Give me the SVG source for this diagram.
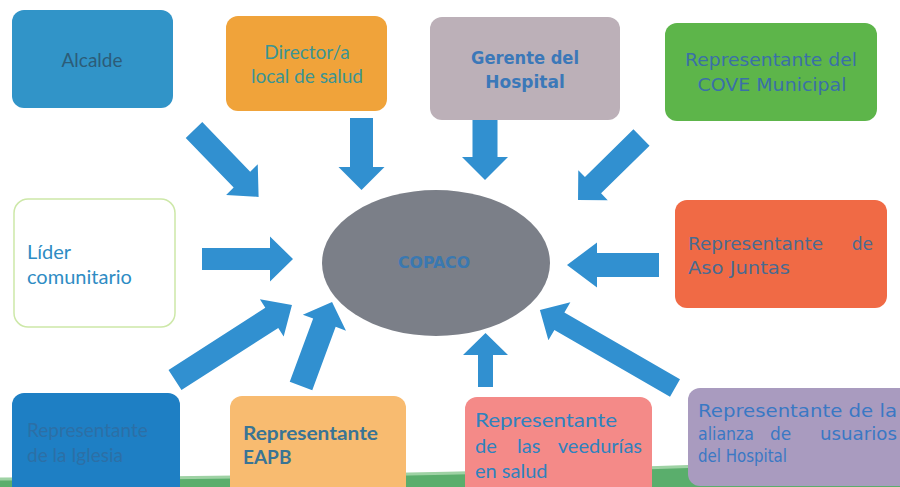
<svg xmlns="http://www.w3.org/2000/svg" width="900" height="487" viewBox="0 0 900 487">
<style>
.arrow{fill:#3190d0}
.box{stroke:none}
.lato{font-family:Lato,"Open Sans","Liberation Sans",sans-serif}
.dv{font-family:"DejaVu Sans","Liberation Sans",sans-serif}
</style>
<rect width="900" height="487" fill="#ffffff"/>
<path d="M0,487 L0,479 C250,478 550,474 900,458 L900,487 Z" fill="#5aae6c"/>
<path d="M0,479 C250,478 550,474 900,458" fill="none" stroke="#9ed2a4" stroke-width="3"/>
<g id="connectors">
<polygon class="arrow" transform="translate(194,130) rotate(46)" points="0,-11.5 69,-11.5 69,-22 93,0 69,22 69,11.5 0,11.5"/>
<polygon class="arrow" transform="translate(361.5,118) rotate(90)" points="0,-11.5 49,-11.5 49,-23 72,0 49,23 49,11.5 0,11.5"/>
<polygon class="arrow" transform="translate(485,120) rotate(90)" points="0,-12.5 37,-12.5 37,-23 60,0 37,23 37,12.5 0,12.5"/>
<polygon class="arrow" transform="translate(641.5,137.5) rotate(135.5)" points="0,-11.5 68,-11.5 68,-21 89,0 68,21 68,11.5 0,11.5"/>
<polygon class="arrow" transform="translate(202,259)" points="0,-11 68,-11 68,-22.5 91,0 68,22.5 68,11 0,11"/>
<polygon class="arrow" transform="translate(659,265) rotate(180)" points="0,-12 62,-12 62,-22.5 92,0 62,22.5 62,12 0,12"/>
<polygon class="arrow" transform="translate(175,380) rotate(-32.7)" points="0,-12 115,-12 115,-22 139,0 115,22 115,12 0,12"/>
<polygon class="arrow" transform="translate(301,386) rotate(-69.7)" points="0,-12 67.5,-12 67.5,-23 89.5,0 67.5,23 67.5,12 0,12"/>
<polygon class="arrow" transform="translate(485.5,387) rotate(-90)" points="0,-7.5 32,-7.5 32,-22.5 54,0 32,22.5 32,7.5 0,7.5"/>
<polygon class="arrow" transform="translate(675,388) rotate(-150)" points="0,-10 133.5,-10 133.5,-22 156,0 133.5,22 133.5,10 0,10"/>
</g>
<g id="copaco">
<ellipse cx="436" cy="263" rx="114" ry="73" fill="#7b7f88"/>
<text x="434" y="268" text-anchor="middle" class="dv" font-size="15" font-weight="bold" fill="#3a78b0" textLength="72" lengthAdjust="spacingAndGlyphs">COPACO</text>
</g>
<g id="alcalde">
<rect class="box" x="12" y="10" width="161" height="98" rx="12" fill="#3194c8"/>
<text x="92" y="67" text-anchor="middle" class="lato" font-size="19" fill="#2c5c78">Alcalde</text>
</g>
<g id="director">
<rect class="box" x="226" y="16" width="161" height="95" rx="12" fill="#f0a33a"/>
<text x="307" y="59" text-anchor="middle" class="lato" font-size="19" fill="#3a9494">Director/a</text>
<text x="307" y="83" text-anchor="middle" class="lato" font-size="19" fill="#3a9494">local de salud</text>
</g>
<g id="gerente">
<rect class="box" x="430" y="17" width="190" height="103" rx="12" fill="#bcb0b8"/>
<text x="525" y="64" text-anchor="middle" class="dv" font-size="17" font-weight="bold" fill="#3b78b8" textLength="108" lengthAdjust="spacingAndGlyphs">Gerente del</text>
<text x="525" y="88" text-anchor="middle" class="dv" font-size="17" font-weight="bold" fill="#3b78b8">Hospital</text>
</g>
<g id="cove">
<rect class="box" x="665" y="23" width="212" height="98" rx="12" fill="#5db54a"/>
<text x="771" y="66" text-anchor="middle" class="dv" font-size="17" fill="#3a70a8" textLength="172" lengthAdjust="spacingAndGlyphs">Representante del</text>
<text x="772" y="91" text-anchor="middle" class="dv" font-size="17" fill="#3a70a8" textLength="149" lengthAdjust="spacingAndGlyphs">COVE Municipal</text>
</g>
<g id="lider">
<rect x="14" y="199" width="161" height="128" rx="14" fill="#ffffff" stroke="#cde8a8" stroke-width="1.5"/>
<text x="27" y="259" class="lato" font-size="20" fill="#2e8cc4">Líder</text>
<text x="27" y="284" class="lato" font-size="20" fill="#2e8cc4">comunitario</text>
</g>
<g id="asojuntas">
<rect class="box" x="675" y="200" width="212" height="108" rx="12" fill="#f06a45"/>
<text x="688" y="250" class="dv" font-size="17" fill="#4a6a90" textLength="135" lengthAdjust="spacingAndGlyphs">Representante</text>
<text x="873" y="250" text-anchor="end" class="dv" font-size="17" fill="#4a6a90">de</text>
<text x="688" y="274" class="dv" font-size="17" fill="#4a6a90" textLength="102" lengthAdjust="spacingAndGlyphs">Aso Juntas</text>
</g>
<g id="iglesia">
<rect class="box" x="12" y="393" width="168" height="110" rx="12" fill="#1e7fc4"/>
<text x="27" y="437" class="lato" font-size="19" fill="#2c6fa6">Representante</text>
<text x="27" y="462" class="lato" font-size="19" fill="#2c6fa6">de la Iglesia</text>
</g>
<g id="eapb">
<rect class="box" x="230" y="396" width="176" height="110" rx="12" fill="#f8bb70"/>
<text x="243" y="440" class="lato" font-size="19" font-weight="bold" fill="#3a7494" textLength="135" lengthAdjust="spacingAndGlyphs">Representante</text>
<text x="243" y="464" class="lato" font-size="19" font-weight="bold" fill="#3a7494">EAPB</text>
</g>
<g id="veedurias">
<rect class="box" x="465" y="397" width="187" height="110" rx="12" fill="#f48a88"/>
<text x="475" y="427" class="lato" font-size="20" fill="#2f82be" textLength="142" lengthAdjust="spacingAndGlyphs">Representante</text>
<text x="475" y="453" class="lato" font-size="20" fill="#2f82be">de</text>
<text x="517" y="453" class="lato" font-size="20" fill="#2f82be">las</text>
<text x="642" y="453" text-anchor="end" class="lato" font-size="20" fill="#2f82be">veedurías</text>
<text x="475" y="478" class="lato" font-size="20" fill="#2f82be">en salud</text>
</g>
<g id="alianza">
<rect class="box" x="688" y="388" width="224" height="98" rx="12" fill="#a99bbf"/>
<text x="698" y="417" class="dv" font-size="17" fill="#3a78c4" textLength="199" lengthAdjust="spacingAndGlyphs">Representante de la</text>
<text x="698" y="440" class="dv" font-size="17" fill="#3a78c4" textLength="56" lengthAdjust="spacingAndGlyphs">alianza</text>
<text x="770" y="440" class="dv" font-size="17" fill="#3a78c4">de</text>
<text x="897" y="440" text-anchor="end" class="dv" font-size="17" fill="#3a78c4" textLength="77" lengthAdjust="spacingAndGlyphs">usuarios</text>
<text x="698" y="462" class="dv" font-size="17" fill="#3a78c4" textLength="89" lengthAdjust="spacingAndGlyphs">del Hospital</text>
</g>
</svg>
